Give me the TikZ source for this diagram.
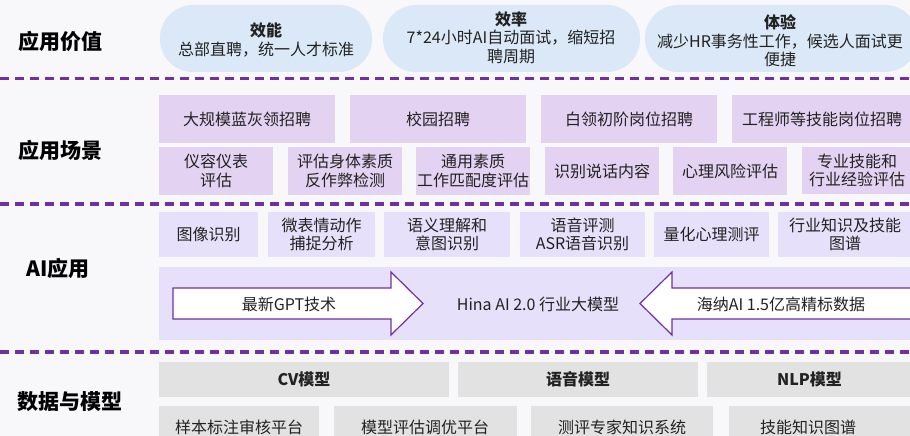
\documentclass[tikz,border=0pt]{standalone}
\usepackage{fontspec}
\setmainfont{Noto Sans CJK SC}
\usetikzlibrary{calc}
\definecolor{bgc}{HTML}{F8F8FB}
\definecolor{pillblue}{HTML}{DBE8F8}
\definecolor{scenpurple}{HTML}{E3D2F1}
\definecolor{ailav}{HTML}{E6E0FA}
\definecolor{dgray}{HTML}{E2E2E2}
\definecolor{sepc}{HTML}{7030A0}
\definecolor{txt}{HTML}{222222}
\newcommand\bx[7]{\node[#6, minimum width={(#4)-(#2)}, minimum height={(#5)-(#3)}] (#1) at ({((#2)+(#4))/2},{((#3)+(#5))/2}) {#7};}
\begin{document}
\begin{tikzpicture}[x=1pt,y=-1pt,
  every node/.style={inner sep=0pt, outer sep=0pt, text=txt, font=\fontsize{16}{18.5}\selectfont, align=center},
  head/.style={font=\fontsize{21}{24}\selectfont\bfseries, text=black},
  pill/.style={fill=pillblue, rounded corners=33pt},
  scen/.style={fill=scenpurple},
  aibox/.style={fill=ailav},
  dbox/.style={fill=dgray},
  sep/.style={draw=sepc, line width=3.5pt, dash pattern=on 9pt off 6pt},
  arr/.style={draw=sepc, line width=1.2pt, fill=white, line join=miter}]
\useasboundingbox (0,0) rectangle (910,436);
\clip (0,0) rectangle (910,436);
\fill[bgc] (0,0) rectangle (910,436);

% separators
\coordinate (s1a) at (0,78.5); \coordinate (s1b) at (912,78.5);
\coordinate (s2a) at (0,204); \coordinate (s2b) at (912,204);
\coordinate (s3a) at (0,352); \coordinate (s3b) at (912,352);
\draw[sep] (s1a) -- (s1b);
\draw[sep] (s2a) -- (s2b);
\draw[sep] (s3a) -- (s3b);

% headers
\node[head] (h1) at (60,41) {应用价值};
\node[head] (h2) at (61,150) {应用场景};
\node[head] (h3) at (58,268) {AI应用};
\node[head] (h4) at (70,402) {数据与模型};

% value pills
\bx{p1}{160}{5}{372}{72}{pill}{}
\bx{p2}{383}{5}{640}{72}{pill}{}
\bx{p3}{645}{5}{918}{72}{pill}{}
\node (p1t) at (266,40) {\textbf{效能}\\总部直聘，统一人才标准};
\node (p2t) at (511,37.5) {\textbf{效率}\\7*24小时AI自动面试，缩短招\\聘周期};
\node (p3t) at (780,41) {\textbf{体验}\\减少HR事务性工作，候选人面试更\\便捷};

% scenarios
\bx{a1}{159}{95}{335}{143}{scen}{大规模蓝灰领招聘}
\bx{a2}{350}{95}{526}{143}{scen}{校园招聘}
\bx{a3}{541}{95}{717}{143}{scen}{白领初阶岗位招聘}
\bx{a4}{732}{95}{912}{143}{scen}{工程师等技能岗位招聘}
\bx{b1}{159}{147}{273}{195}{scen}{仪容仪表\\评估}
\bx{b2}{288}{147}{402}{195}{scen}{评估身体素质\\反作弊检测}
\bx{b3}{416}{147}{530}{195}{scen}{通用素质\\工作匹配度评估}
\bx{b4}{545}{147}{659}{195}{scen}{识别说话内容}
\bx{b5}{673}{147}{787}{195}{scen}{心理风险评估}
\bx{b6}{802}{147}{912}{194}{scen}{专业技能和\\行业经验评估}

% AI applications
\bx{c1}{159}{212}{258}{257}{aibox}{图像识别}
\bx{c2}{268}{212}{375}{257}{aibox}{微表情动作\\捕捉分析}
\bx{c3}{384}{212}{510}{257}{aibox}{语义理解和\\意图识别}
\bx{c4}{520}{212}{645}{257}{aibox}{语音评测\\ASR语音识别}
\bx{c5}{654}{212}{769}{257}{aibox}{量化心理测评}
\bx{c6}{778}{212}{912}{257}{aibox}{行业知识及技能\\图谱}
\bx{big}{159}{267}{912}{340}{aibox}{}

\draw[arr] (173,288) -- (391,288) -- (391,272) -- (423,303.5) -- (391,335) -- (391,319) -- (173,319) -- cycle;
\draw[arr] (914,288) -- (672,288) -- (672,272) -- (640,303.5) -- (672,335) -- (672,319) -- (914,319) -- cycle;
\node (gpt) at (289,304) {最新GPT技术};
\node (hina) at (538,304) {Hina AI 2.0 行业大模型};
\node (data) at (781,304) {海纳AI 1.5亿高精标数据};

% data and models
\bx{d1}{159}{362}{449}{397}{dbox,font=\fontsize{16}{18.5}\selectfont\bfseries}{CV模型}
\bx{d2}{458}{362}{698}{397}{dbox,font=\fontsize{16}{18.5}\selectfont\bfseries}{语音模型}
\bx{d3}{707}{362}{912}{397}{dbox,font=\fontsize{16}{18.5}\selectfont\bfseries}{NLP模型}
\bx{e1}{159}{406}{319}{448}{dbox}{}
\bx{e2}{334}{406}{517}{448}{dbox}{}
\bx{e3}{531}{406}{713}{448}{dbox}{}
\bx{e4}{729}{406}{912}{448}{dbox}{}
\node (e1t) at (239,427) {样本标注审核平台};
\node (e2t) at (425,427) {模型评估调优平台};
\node (e3t) at (622,427) {测评专家知识系统};
\node (e4t) at (808,427) {技能知识图谱};
\end{tikzpicture}
\end{document}
